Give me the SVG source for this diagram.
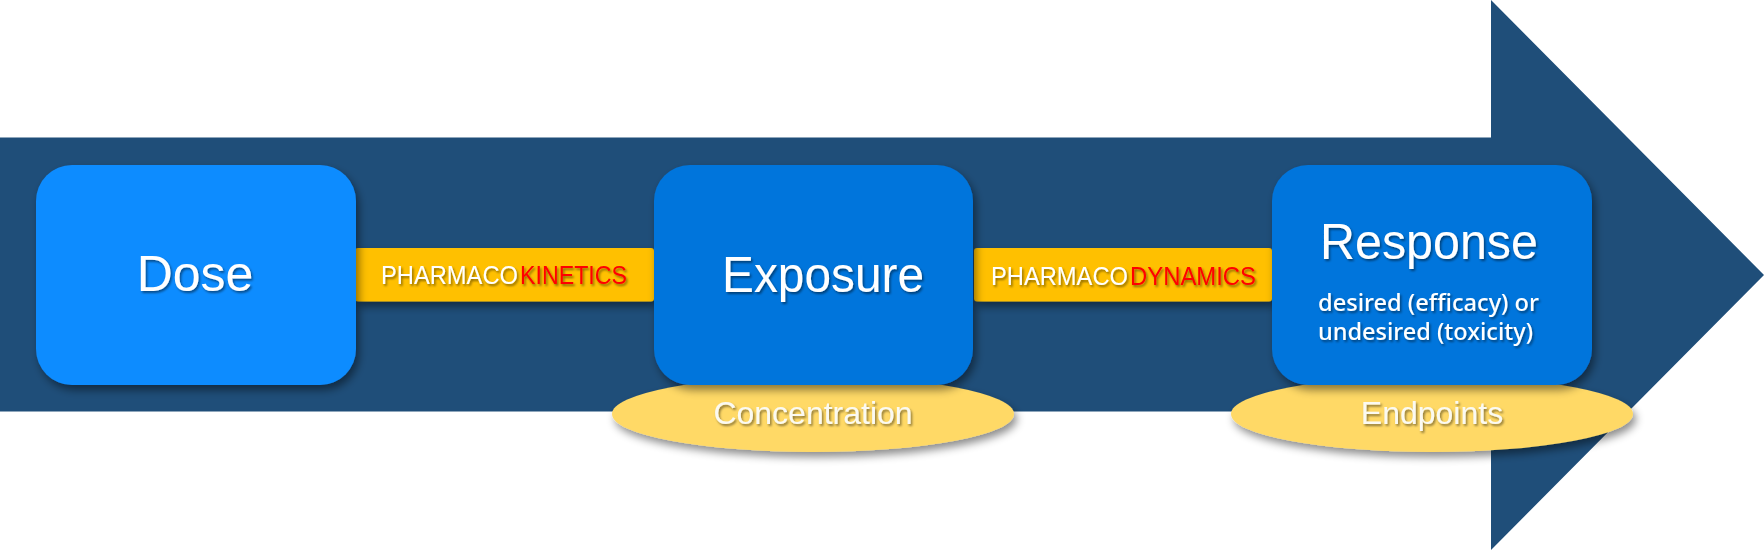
<svg xmlns="http://www.w3.org/2000/svg" width="1764" height="550" viewBox="0 0 1764 550">
<defs>
<filter id="boxShadow" x="-20%" y="-20%" width="140%" height="150%">
<feDropShadow dx="3" dy="5" stdDeviation="4" flood-color="#000" flood-opacity="0.45"/>
</filter>
<filter id="txtShadow" x="-10%" y="-20%" width="120%" height="150%">
<feDropShadow dx="1.5" dy="2" stdDeviation="1" flood-color="#000" flood-opacity="0.45"/>
</filter>
<style>
.arrow{fill:#1f4e79}
.box1{fill:#108cff;filter:url(#boxShadow)}
.box2{fill:#0275dc;filter:url(#boxShadow)}
.lbl{fill:#ffc000;filter:url(#boxShadow)}
.ell{fill:#ffd966;filter:url(#boxShadow)}
.big{font-family:"Liberation Sans",Arial,sans-serif;font-size:50px;fill:#fff;text-anchor:middle;filter:url(#txtShadow)}
.mid{font-family:"Liberation Sans",Arial,sans-serif;font-size:32px;fill:#fbfaf2;text-anchor:middle;filter:url(#txtShadow)}
.pk{font-family:"Liberation Sans",Arial,sans-serif;font-size:26px;fill:#fff;filter:url(#txtShadow)}
.red{fill:#ff0000}
.sub{font-family:"Noto Sans","Liberation Sans",sans-serif;font-size:23px;font-weight:500;fill:#fff;filter:url(#txtShadow)}
</style>
</defs>
<g id="big-arrow">
<polygon class="arrow" points="0,137.5 1491,137.5 1491,0 1764,275 1491,550 1491,411.5 0,411.5"/>
</g>
<g id="connectors">
<g id="pk">
<rect class="lbl" x="355" y="248" width="299" height="53.5" rx="3"/>
<text class="pk" x="381" y="284" textLength="137" lengthAdjust="spacingAndGlyphs">PHARMACO</text>
<text class="pk red" x="520" y="284" textLength="107" lengthAdjust="spacingAndGlyphs">KINETICS</text>
</g>
<g id="pd">
<rect class="lbl" x="974" y="248" width="298" height="53.5" rx="3"/>
<text class="pk" x="991" y="285" textLength="137" lengthAdjust="spacingAndGlyphs">PHARMACO</text>
<text class="pk red" x="1130" y="285" textLength="126" lengthAdjust="spacingAndGlyphs">DYNAMICS</text>
</g>
</g>
<g id="concentration">
<ellipse class="ell" cx="813" cy="414" rx="201" ry="38"/>
<text class="mid" x="813" y="424">Concentration</text>
</g>
<g id="endpoints">
<ellipse class="ell" cx="1432" cy="414" rx="201" ry="38"/>
<text class="mid" x="1432" y="424">Endpoints</text>
</g>
<g id="dose">
<rect class="box1" x="36" y="165" width="320" height="220" rx="36"/>
<text class="big" x="195" y="291">Dose</text>
</g>
<g id="exposure">
<rect class="box2" x="654" y="165" width="319" height="220" rx="36"/>
<text class="big" x="823" y="292" textLength="202" lengthAdjust="spacingAndGlyphs">Exposure</text>
</g>
<g id="response">
<rect class="box2" x="1272" y="165" width="320" height="220" rx="36"/>
<text class="big" x="1429" y="259" textLength="218" lengthAdjust="spacingAndGlyphs">Response</text>
<text class="sub" x="1318" y="311" textLength="221" lengthAdjust="spacingAndGlyphs">desired (efficacy) or</text>
<text class="sub" x="1318" y="340" textLength="215" lengthAdjust="spacingAndGlyphs">undesired (toxicity)</text>
</g>
</svg>
